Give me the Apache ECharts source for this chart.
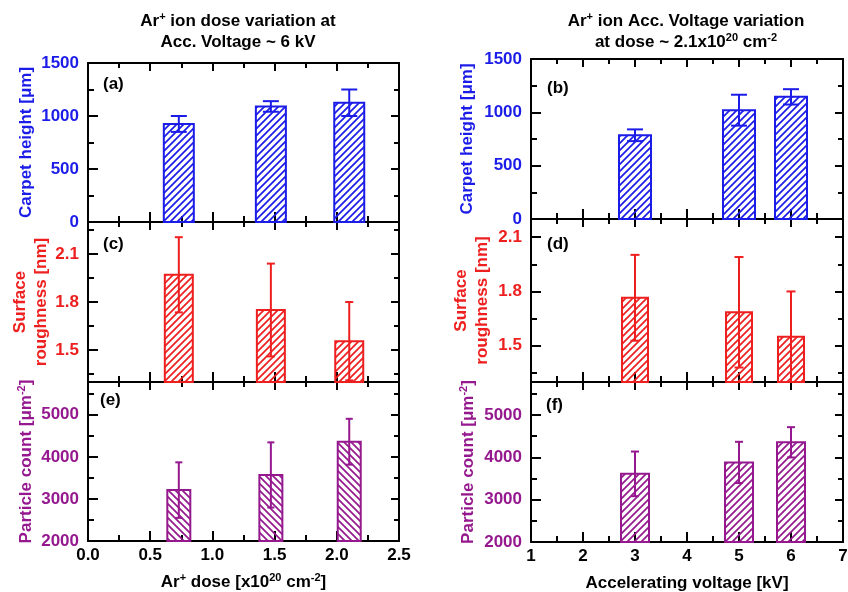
<!DOCTYPE html>
<html>
<head>
<meta charset="utf-8">
<title>Ar+ ion dose and voltage variation</title>
<script src="https://cdn.jsdelivr.net/npm/echarts@6/dist/echarts.min.js"></script>
<style>
  html, body { margin: 0; background: #fff; }
  #chart { width: 848px; height: 592px; }
</style>
</head>
<body>
<div id="chart"></div>
<script>
var FONT = 'Liberation Sans, Arial, sans-serif';
var BLUE = '#1c1ce8', RED = '#ee1f1f', PURPLE = '#95188f';

// x positions of the bars
var doseX = [0.73, 1.47, 2.1];   // x10^20 cm^-2
var voltX = [3, 5, 6];           // kV

// dose series (Acc. voltage ~ 6 kV)
var heightDose = [925, 1090, 1125];
var heightDoseErr = [75, 50, 125];
var roughDose = [1.97, 1.75, 1.555];
var roughDoseErr = [0.235, 0.29, 0.245];
var countDose = [3210, 3570, 4360];
var countDoseErr = [660, 775, 545];

// voltage series (dose ~ 2.1x10^20 cm^-2)
var heightVolt = [785, 1020, 1145];
var heightVoltErr = [55, 145, 72];
var roughVolt = [1.765, 1.685, 1.55];
var roughVoltErr = [0.237, 0.305, 0.25];
var countVolt = [3610, 3880, 4355];
var countVoltErr = [527, 487, 358];

// tick labels
var heightTicks = [0, 500, 1000, 1500];
var heightMinor = [250, 750, 1250];
var roughTicks = [1.5, 1.8, 2.1];
var roughMinor = [1.35, 1.65, 1.95, 2.25];
var countTicks = [2000, 3000, 4000, 5000];
var countMinor = [2500, 3500, 4500, 5500];

// diagonal hatch used as bar fill
function makeHatch(color, dir) {
  var s = 7;
  var c = document.createElement('canvas');
  c.width = c.height = s;
  var g = c.getContext('2d');
  g.strokeStyle = color;
  g.lineWidth = 1.7;
  g.beginPath();
  if (dir > 0) {
    g.moveTo(-2, s + 2); g.lineTo(s + 2, -2);
    g.moveTo(-2, 2); g.lineTo(2, -2);
    g.moveTo(s - 2, s + 2); g.lineTo(s + 2, s - 2);
  } else {
    g.moveTo(-2, -2); g.lineTo(s + 2, s + 2);
    g.moveTo(s - 2, -2); g.lineTo(s + 2, 2);
    g.moveTo(-2, s - 2); g.lineTo(2, s + 2);
  }
  g.stroke();
  return c;
}

var heightName = 'Carpet height [μm]';
var roughName = 'Surface\nroughness [nm]';
var countName = 'Particle count [μm{s|-2}]';

var panels = [
  { tag: '(a)', col: 0, grid: { left: 88, top: 63, width: 311, height: 159 }, lab: [103, 76],
    yMin: 0, yMax: 1500, ticks: heightTicks, minor: heightMinor, dec: 0,
    xs: doseX, ys: heightDose, err: heightDoseErr, color: BLUE, dir: 1, barW: 30, capW: 16,
    name: heightName, gap: 51 },
  { tag: '(c)', col: 0, grid: { left: 88, top: 222, width: 311, height: 160 }, lab: [103, 236],
    yMin: 1.3, yMax: 2.3, ticks: roughTicks, minor: roughMinor, dec: 1,
    xs: doseX, ys: roughDose, err: roughDoseErr, color: RED, dir: 1, barW: 28, capW: 8,
    name: roughName, gap: 33 },
  { tag: '(e)', col: 0, grid: { left: 88, top: 382, width: 311, height: 159 }, lab: [100, 392],
    yMin: 2000, yMax: 5780, ticks: countTicks, minor: countMinor, dec: 0,
    xs: doseX, ys: countDose, err: countDoseErr, color: PURPLE, dir: -1, barW: 23, capW: 7,
    name: countName, gap: 50, bottom: true },
  { tag: '(b)', col: 1, grid: { left: 531, top: 59, width: 312, height: 160 }, lab: [547, 80],
    yMin: 0, yMax: 1500, ticks: heightTicks, minor: heightMinor, dec: 0,
    xs: voltX, ys: heightVolt, err: heightVoltErr, color: BLUE, dir: 1, barW: 32, capW: 16,
    name: heightName, gap: 53 },
  { tag: '(d)', col: 1, grid: { left: 531, top: 219, width: 312, height: 163 }, lab: [547, 236],
    yMin: 1.3, yMax: 2.2, ticks: roughTicks, minor: roughMinor, dec: 1,
    xs: voltX, ys: roughVolt, err: roughVoltErr, color: RED, dir: 1, barW: 26, capW: 9,
    name: roughName, gap: 38 },
  { tag: '(f)', col: 1, grid: { left: 531, top: 382, width: 312, height: 160 }, lab: [546, 397],
    yMin: 2000, yMax: 5780, ticks: countTicks, minor: countMinor, dec: 0,
    xs: voltX, ys: countVolt, err: countVoltErr, color: PURPLE, dir: 1, barW: 28, capW: 8,
    name: countName, gap: 52, bottom: true }
];

var xScales = [
  { min: 0, max: 2.5, interval: 0.5, dec: 1, name: 'Ar{s|+} dose [x10{s|20} cm{s|-2}]' },
  { min: 1, max: 7, interval: 1, dec: 0, name: 'Accelerating voltage [kV]' }
];

function lineStyle() { return { color: '#000', width: 2 }; }

function renderer(p) {
  var fill = { image: makeHatch(p.color, p.dir), repeat: 'repeat' };
  return function (params, api) {
    var x = api.value(0), y = api.value(1), e = api.value(2);
    var top = api.coord([x, y]);
    var hi = api.coord([x, y + e]);
    var lo = api.coord([x, y - e]);
    var base = params.coordSys.y + params.coordSys.height;
    var cx = top[0], w = p.barW, c = p.capW / 2;
    var st = { stroke: p.color, lineWidth: 2 };
    var kids = [
      { type: 'rect', shape: { x: cx - w / 2, y: top[1], width: w, height: base - top[1] },
        style: { fill: fill, stroke: p.color, lineWidth: 2 } },
      { type: 'line', shape: { x1: cx, y1: hi[1], x2: cx, y2: Math.min(lo[1], base) }, style: st },
      { type: 'line', shape: { x1: cx - c, y1: hi[1], x2: cx + c, y2: hi[1] }, style: st }
    ];
    if (lo[1] < base - 1) {
      kids.push({ type: 'line', shape: { x1: cx - c, y1: lo[1], x2: cx + c, y2: lo[1] }, style: st });
    }
    return { type: 'group', children: kids };
  };
}

var grids = [], xAxes = [], yAxes = [], series = [], titles = [];

titles.push({
  text: 'Ar{s|+} ion dose variation at\nAcc. Voltage ~ 6 kV',
  left: 238, top: 11, padding: 0, textAlign: 'center',
  textStyle: { fontFamily: FONT, fontSize: 17, fontWeight: 'bold', color: '#000', lineHeight: 21,
    rich: { s: { fontFamily: FONT, fontSize: 11, fontWeight: 'bold', color: '#000', verticalAlign: 'top', lineHeight: 12 } } }
});
titles.push({
  text: 'Ar{s|+} ion Acc. Voltage variation\nat dose ~ 2.1x10{s|20} cm{s|-2}',
  left: 686, top: 11, padding: 0, textAlign: 'center',
  textStyle: { fontFamily: FONT, fontSize: 17, fontWeight: 'bold', color: '#000', lineHeight: 21,
    rich: { s: { fontFamily: FONT, fontSize: 11, fontWeight: 'bold', color: '#000', verticalAlign: 'top', lineHeight: 12 } } }
});

panels.forEach(function (p, i) {
  var g = p.grid;
  grids.push({ left: g.left, top: g.top, width: g.width, height: g.height, containLabel: false, outerBoundsMode: 'none' });
  var xs = xScales[p.col];

  xAxes.push({
    type: 'value', gridIndex: i, position: 'bottom', min: xs.min, max: xs.max, interval: xs.interval,
    axisLine: { onZero: false, lineStyle: lineStyle() },
    axisTick: { inside: true, length: 10, lineStyle: lineStyle() },
    minorTick: { show: true, splitNumber: 2, length: 6, lineStyle: lineStyle() },
    splitLine: { show: false },
    axisLabel: { show: !!p.bottom, margin: 6, color: '#000', fontFamily: FONT, fontSize: 17, fontWeight: 'bold',
      formatter: function (v) { return v.toFixed(xs.dec); } },
    name: p.bottom ? xs.name : '', nameLocation: 'middle', nameGap: 31,
    nameTextStyle: { fontFamily: FONT, fontSize: 17, fontWeight: 'bold', color: '#000', lineHeight: 20,
      rich: { s: { fontFamily: FONT, fontSize: 11, fontWeight: 'bold', color: '#000', verticalAlign: 'top', lineHeight: 12 } } }
  });
  xAxes.push({
    type: 'value', gridIndex: i, position: 'top', min: xs.min, max: xs.max, interval: xs.interval,
    axisLine: { onZero: false, lineStyle: lineStyle() },
    axisTick: { inside: true, length: 8, lineStyle: lineStyle() },
    minorTick: { show: true, splitNumber: 2, length: 5, lineStyle: lineStyle() },
    splitLine: { show: false }, axisLabel: { show: false }
  });

  var fmt = function (v) { return v.toFixed(p.dec); };
  yAxes.push({
    type: 'value', gridIndex: i, position: 'left', min: p.yMin, max: p.yMax,
    axisLine: { onZero: false, lineStyle: lineStyle() },
    axisTick: { inside: true, length: 10, customValues: p.ticks, lineStyle: lineStyle() },
    splitLine: { show: false },
    axisLabel: { customValues: p.ticks, formatter: fmt, margin: 9, color: p.color,
      fontFamily: FONT, fontSize: 17, fontWeight: 'bold' },
    name: p.name, nameLocation: 'middle', nameGap: p.gap, nameRotate: 90,
    nameTextStyle: { fontFamily: FONT, fontSize: 17, fontWeight: 'bold', color: p.color, lineHeight: 21, align: 'center',
      rich: { s: { fontFamily: FONT, fontSize: 11, fontWeight: 'bold', color: p.color, verticalAlign: 'top', lineHeight: 12 } } }
  });
  yAxes.push({
    type: 'value', gridIndex: i, position: 'left', min: p.yMin, max: p.yMax,
    axisLine: { show: false, onZero: false },
    axisTick: { inside: true, length: 6, customValues: p.minor, lineStyle: lineStyle() },
    splitLine: { show: false }, axisLabel: { show: false }
  });
  yAxes.push({
    type: 'value', gridIndex: i, position: 'right', min: p.yMin, max: p.yMax,
    axisLine: { onZero: false, lineStyle: lineStyle() },
    axisTick: { inside: true, length: 8, customValues: p.ticks, lineStyle: lineStyle() },
    splitLine: { show: false }, axisLabel: { show: false }
  });
  yAxes.push({
    type: 'value', gridIndex: i, position: 'right', min: p.yMin, max: p.yMax,
    axisLine: { show: false, onZero: false },
    axisTick: { inside: true, length: 5, customValues: p.minor, lineStyle: lineStyle() },
    splitLine: { show: false }, axisLabel: { show: false }
  });

  series.push({
    type: 'custom', xAxisIndex: 2 * i, yAxisIndex: 4 * i,
    data: p.xs.map(function (x, k) { return [x, p.ys[k], p.err[k]]; }),
    renderItem: renderer(p)
  });

  titles.push({
    text: p.tag, left: p.lab[0], top: p.lab[1], padding: 0,
    textStyle: { fontFamily: FONT, fontSize: 17, fontWeight: 'bold', color: '#000', lineHeight: 17 }
  });
});

var myChart = echarts.init(document.getElementById('chart'));
myChart.setOption({
  animation: false,
  backgroundColor: '#fff',
  title: titles,
  grid: grids,
  xAxis: xAxes,
  yAxis: yAxes,
  series: series
});
</script>
</body>
</html>
